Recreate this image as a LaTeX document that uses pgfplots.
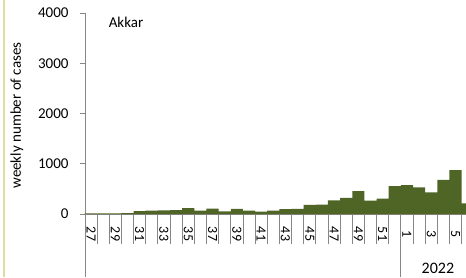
\documentclass[border=0pt]{standalone}
\usepackage{pgfplots}
\pgfplotsset{compat=1.18}
\usepackage{fontspec}
\setmainfont{Carlito}
\definecolor{barcol}{RGB}{79,101,38}
\definecolor{axgray}{RGB}{134,134,134}
\definecolor{bordery}{RGB}{222,222,160}
\begin{document}
\begin{tikzpicture}
\begin{axis}[
  scale only axis, width=381pt, height=201pt,
  at={(0pt,0pt)}, anchor=south west,
  xmin=-0.5, xmax=30.86, ymin=0, ymax=4000,
  axis x line*=bottom, axis y line*=left,
  axis line style={axgray, line width=0.8pt},
  clip mode=individual,
  ytick={0,1000,2000,3000,4000},
  yticklabel style={font=\fontsize{15}{18}\selectfont, xshift=-8pt},
  /pgf/number format/1000 sep={},
  /pgf/number format/assume math mode=true,
  xtick={0,2,...,30},
  xticklabels={27,29,31,33,35,37,39,41,43,45,47,49,51,1,3,5},
  xticklabel style={font=\fontsize{14}{16}\selectfont, anchor=center, yshift=-15pt, rotate=-90},
  minor xtick={-0.5,0.5,...,30.5},
  major x tick style={draw=none},
  minor x tick style={axgray, line width=0.8pt},
  ytick style={axgray, line width=0.8pt},
  minor tick length=30pt,
  major tick length=5pt,
  xtick align=outside, ytick align=outside,
  ylabel={weekly number of cases},
  ylabel style={font=\fontsize{15}{18}\selectfont, at={(axis description cs:-0.1785,0.49)}, anchor=center},
]
\addplot[ybar, bar width=1, fill=barcol, draw=none] table {
k v
0 15
1 15
2 15
3 20
4 55
5 65
6 70
7 75
8 115
9 65
10 105
11 50
12 100
13 65
14 45
15 65
16 95
17 100
18 180
19 185
20 270
21 320
22 455
23 265
24 305
25 555
26 575
27 530
28 430
29 680
30 875
31 210
};
\draw[axgray, line width=0.8pt] (rel axis cs:0,0) -- ([yshift=-63pt]rel axis cs:0,0);
\draw[axgray, line width=0.8pt] (axis cs:25.5,0) -- ([yshift=-63pt]axis cs:25.5,0);
\node[font=\fontsize{16}{18}\selectfont, anchor=center] at ([yshift=-54pt]axis cs:28.55,0) {2022};
\node[font=\fontsize{15}{18}\selectfont, anchor=center] at ([xshift=41pt, yshift=-9pt]rel axis cs:0,1) {Akkar};
\draw[bordery, line width=1.5pt] ([xshift=-81pt,yshift=-63pt]rel axis cs:0,0) -- ([xshift=-81pt,yshift=14pt]rel axis cs:0,1);
\end{axis}
\pgfresetboundingbox
\path[use as bounding box] (-85pt,-63pt) rectangle (381pt,214pt);
\end{tikzpicture}
\end{document}
